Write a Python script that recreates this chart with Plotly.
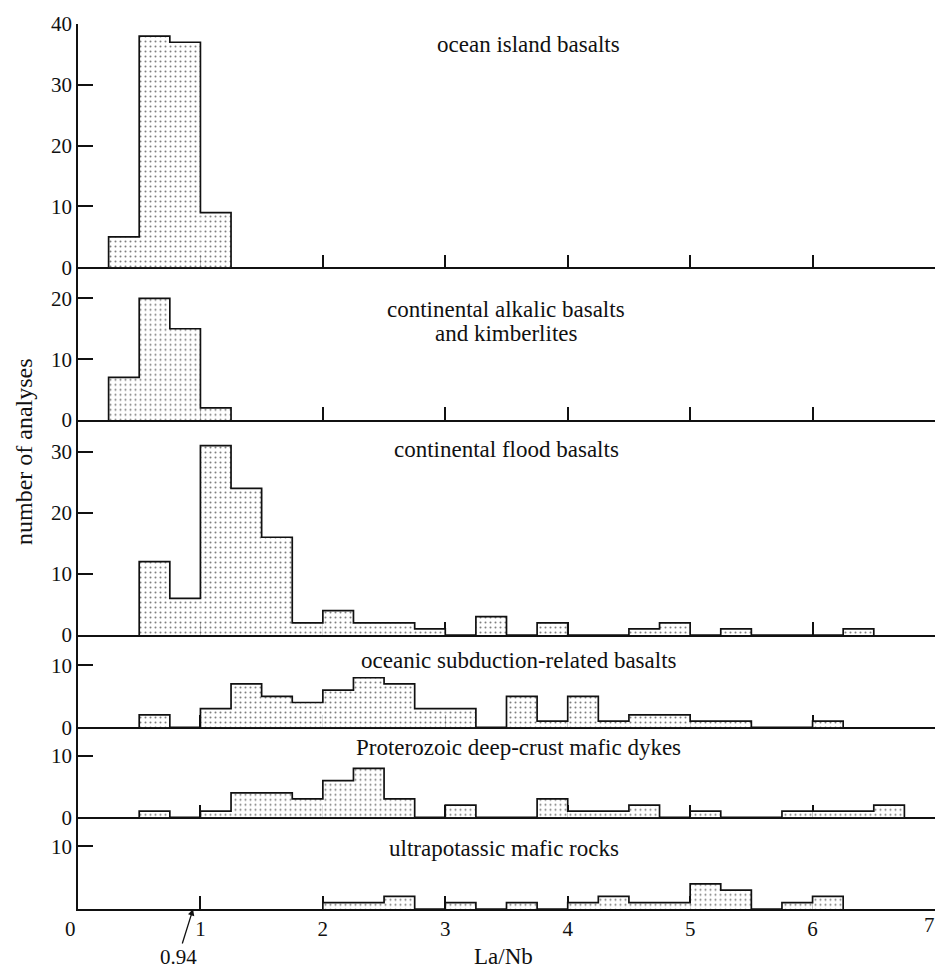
import plotly.graph_objects as go

# La/Nb histogram bins are 0.25 wide; each group lists the left edge of
# its first bin and the number of analyses in each consecutive bin.
BIN_WIDTH = 0.25

group_labels = [
    "ocean island basalts",
    "continental alkalic basalts|and kimberlites",
    "continental flood basalts",
    "oceanic subduction-related basalts",
    "Proterozoic deep-crust mafic dykes",
    "ultrapotassic mafic rocks",
]

oib_start = 0.25
oib_counts = [5, 38, 37, 9]

cab_start = 0.25
cab_counts = [7, 20, 15, 2]

cfb_start = 0.5
cfb_counts = [12, 6, 31, 24, 16, 2, 4, 2, 2, 1, 0, 3, 0, 2, 0, 0, 1, 2, 0, 1, 0, 0, 0, 1]

osb_start = 0.5
osb_counts = [2, 0, 3, 7, 5, 4, 6, 8, 7, 3, 3, 0, 5, 1, 5, 1, 2, 2, 1, 1, 0, 0, 1]

pdm_start = 0.5
pdm_counts = [1, 0, 1, 4, 4, 3, 6, 8, 3, 0, 2, 0, 0, 3, 1, 1, 2, 0, 1, 0, 0, 1, 1, 1, 2]

umr_start = 2.0
umr_counts = [1, 1, 2, 0, 1, 0, 1, 0, 1, 2, 1, 1, 4, 3, 0, 1, 2]

starts = [oib_start, cab_start, cfb_start, osb_start, pdm_start, umr_start]
counts = [oib_counts, cab_counts, cfb_counts, osb_counts, pdm_counts, umr_counts]

# the bottom panel's zero is shared with the La/Nb axis label "0"
y_tickvals = [[0, 10, 20, 30, 40], [0, 10, 20], [0, 10, 20, 30], [0, 10], [0, 10], [10]]
x_tickvals = [0, 1, 2, 3, 4, 5, 6, 7]
x_tick_labels = ["0\u00a0\u00a0\u00a0", "1", "2", "3", "4", "5", "6", "7"]
marker_value = 0.94

# ---- layout geometry (pixels in a 937 x 968 page) ----
W, H = 937, 968
M_L, M_R, M_T, M_B = 78, 2, 24, 59
PLOT_H = H - M_T - M_B
PLOT_W = W - M_L - M_R
# pixel top / bottom of each panel and the visible count range
panel_px = [(24, 267.3), (267.3, 420), (420, 635), (635, 727.3), (727.3, 817.3), (817.3, 909)]
y_tops = [40, 25.1, 35.2, 14.9, 14.7, 14.6]


def py(p):
    """page pixel row -> paper fraction"""
    return (H - M_B - p) / PLOT_H


def px(p):
    """page pixel column -> paper fraction"""
    return (p - M_L) / PLOT_W


FONT = "Liberation Serif"
INK = "#111111"
TICK_SIZE = 21
LABEL_SIZE = 23

fig = go.Figure()

for k, (s, c) in enumerate(zip(starts, counts)):
    n = k + 1
    xa = "x" if n == 1 else f"x{n}"
    ya = "y" if n == 1 else f"y{n}"
    centers = [s + BIN_WIDTH * (i + 0.5) for i in range(len(c))]
    fig.add_trace(go.Bar(
        x=centers, y=c, width=BIN_WIDTH, xaxis=xa, yaxis=ya,
        marker=dict(
            color="white",
            line=dict(width=0),
            pattern=dict(shape=".", size=5, solidity=0.13,
                         fgcolor="#000000", bgcolor="white", fillmode="overlay"),
        ),
        hoverinfo="skip", showlegend=False,
    ))
    # stepped outline of the histogram
    edges = [s] + [s + BIN_WIDTH * i for i in range(len(c))] + [s + BIN_WIDTH * len(c)]
    heights = [0] + list(c) + [0]
    fig.add_trace(go.Scatter(
        x=edges, y=heights, mode="lines", line=dict(shape="hv", color=INK, width=1.7),
        xaxis=xa, yaxis=ya, hoverinfo="skip", showlegend=False,
    ))

layout = dict(
    width=W, height=H,
    margin=dict(l=M_L, r=M_R, t=M_T, b=M_B),
    paper_bgcolor="white", plot_bgcolor="white",
    barmode="overlay",
    font=dict(family=FONT, size=TICK_SIZE, color=INK),
)

for k in range(6):
    n = k + 1
    top, bot = panel_px[k]
    last = (n == 6)
    xkey = "xaxis" if n == 1 else f"xaxis{n}"
    ykey = "yaxis" if n == 1 else f"yaxis{n}"
    layout[xkey] = dict(
        domain=[0, 1], range=[0, 7], anchor="y" if n == 1 else f"y{n}",
        showgrid=False, zeroline=False,
        showline=True, linecolor=INK, linewidth=1.6,
        ticks="inside", ticklen=13, tickwidth=1.5, tickcolor=INK,
        tickvals=x_tickvals[:-1] if last else x_tickvals[1:-1],
        ticktext=x_tick_labels[:-1] if last else None,
        showticklabels=last,
        tickfont=dict(family=FONT, size=TICK_SIZE, color=INK),
        layer="below traces", fixedrange=True,
    )
    layout[ykey] = dict(
        domain=[py(bot), py(top)], range=[0, y_tops[k]],
        anchor="x" if n == 1 else f"x{n}",
        showgrid=False, zeroline=False,
        showline=True, linecolor=INK, linewidth=1.6,
        ticks="inside", ticklen=15, tickwidth=1.5, tickcolor=INK,
        tickvals=y_tickvals[k],
        tickfont=dict(family=FONT, size=TICK_SIZE, color=INK),
        layer="below traces", fixedrange=True,
    )

fig.update_layout(**layout)

# last x label sits on the right edge of the page
fig.add_annotation(
    text=x_tick_labels[-1], x=x_tickvals[-1], y=py(925), xref="x6", yref="paper",
    xanchor="right", yanchor="middle", xshift=2, showarrow=False,
    font=dict(family=FONT, size=TICK_SIZE, color=INK),
)

# group labels inside each panel (pixel centres)
label_pos = [
    [(528, 45)],
    [(506, 309), (506, 333)],
    [(506, 449)],
    [(519, 660)],
    [(518, 747)],
    [(504, 848)],
]
for text, spots in zip(group_labels, label_pos):
    for line, (cx, cy) in zip(text.split("|"), spots):
        fig.add_annotation(
            text=line, x=px(cx), y=py(cy), xref="paper", yref="paper",
            xanchor="center", yanchor="middle", showarrow=False,
            font=dict(family=FONT, size=LABEL_SIZE, color=INK),
        )

# axis titles
fig.add_annotation(
    text="number of analyses", x=px(24), y=py(452), xref="paper", yref="paper",
    xanchor="center", yanchor="middle", textangle=-90, showarrow=False,
    font=dict(family=FONT, size=24, color=INK),
)
fig.add_annotation(
    text="La/Nb", x=px(503), y=py(956), xref="paper", yref="paper",
    xanchor="center", yanchor="middle", showarrow=False,
    font=dict(family=FONT, size=LABEL_SIZE, color=INK),
)

# marker for the primitive-mantle La/Nb value
fig.add_annotation(
    text=f"{marker_value:.2f}", x=marker_value, y=0, xref="x6", yref="y6",
    showarrow=True, ax=-15, ay=48, arrowhead=2, arrowsize=1, arrowwidth=1.3,
    arrowcolor=INK, font=dict(family=FONT, size=TICK_SIZE, color=INK),
)

fig.write_html("out.html")
